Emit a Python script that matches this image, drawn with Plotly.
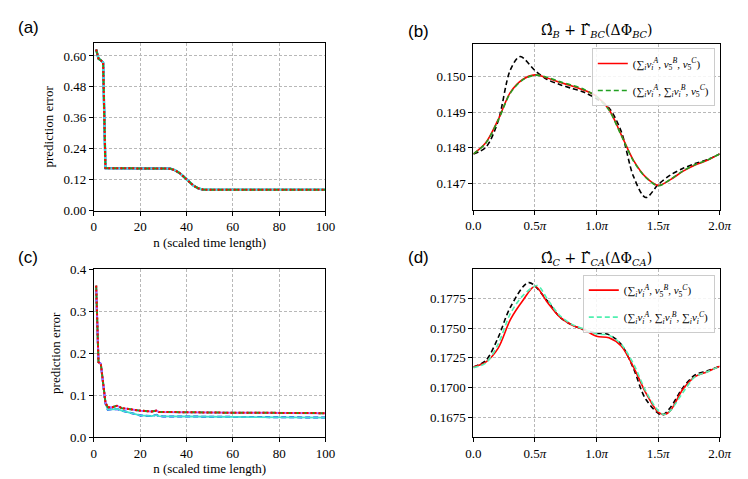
import numpy as np
import plotly.graph_objects as go

# ---------------- data ----------------
# panel (a): prediction error vs n
a_n = [1, 2, 3, 4, 5, 8, 15, 25, 33, 35, 37, 39, 41, 43, 45, 47, 50, 60, 80, 100]
a_err = [0.625, 0.59, 0.583, 0.575, 0.165, 0.165, 0.164, 0.164, 0.163, 0.157, 0.146, 0.13, 0.112, 0.097, 0.087, 0.082, 0.081, 0.081, 0.081, 0.081]

# panel (c): prediction error vs n (upper and lower groups)
c_n_up = [1, 2, 3, 4, 5, 6, 8, 10, 12, 15, 20, 25, 27, 28, 30, 40, 50, 60, 70, 80, 90, 100]
c_err_up = [0.3615, 0.1788, 0.175, 0.1287, 0.0825, 0.071, 0.071, 0.0748, 0.069, 0.067, 0.063, 0.061, 0.063, 0.060, 0.0598, 0.059, 0.0585, 0.058, 0.058, 0.0575, 0.057, 0.057]
c_n_lo = [1, 2, 3, 4, 5, 6, 8, 10, 12, 15, 20, 25, 27, 28, 30, 40, 50, 60, 70, 80, 90, 100]
c_err_lo = [0.35, 0.1788, 0.175, 0.125, 0.08, 0.0655, 0.066, 0.067, 0.063, 0.059, 0.0516, 0.050, 0.053, 0.050, 0.0493, 0.049, 0.0485, 0.048, 0.0475, 0.047, 0.0468, 0.0465]

# panel (b): phase x in units of pi
b_x = [0, .1, .2, .3, .4, .5, .6, .7, .8, .9, 1.0, 1.1, 1.2, 1.3, 1.4, 1.5, 1.6, 1.7, 1.8, 1.9, 2.0]
b_red = [0.14783, 0.14814, 0.14878, 0.14955, 0.14991, 0.15004, 0.14995, 0.14983, 0.14973, 0.14961, 0.14944, 0.14908, 0.14837, 0.14765, 0.14718, 0.14695, 0.14711, 0.14734, 0.14752, 0.14765, 0.14783]
b_green = [0.14783, 0.14813, 0.14876, 0.14953, 0.14990, 0.15003, 0.14997, 0.14985, 0.14975, 0.14963, 0.14943, 0.14906, 0.14835, 0.14763, 0.14717, 0.14694, 0.14712, 0.14735, 0.14753, 0.14766, 0.14783]
b_x_black = [0, .1, .2, .3, .38, .5, .6, .7, .8, .9, 1.0, 1.1, 1.2, 1.3, 1.4, 1.5, 1.6, 1.7, 1.8, 1.9, 2.0]
b_black = [0.14783, 0.14801, 0.14874, 0.15018, 0.15055, 0.15016, 0.14991, 0.14977, 0.14966, 0.14955, 0.14937, 0.14912, 0.14846, 0.14720, 0.14661, 0.14697, 0.14724, 0.14742, 0.14756, 0.14767, 0.14783]

# panel (d)
d_x_red = [0, .1, .2, .3, .4, .5, .6, .7, .8, .9, 1.0, 1.1, 1.2, 1.3, 1.4, 1.5, 1.55, 1.6, 1.7, 1.8, 1.9, 2.0]
d_red = [0.17174, 0.17215, 0.17330, 0.17570, 0.17728, 0.17850, 0.17715, 0.17593, 0.17526, 0.17485, 0.17431, 0.17418, 0.17350, 0.17174, 0.16958, 0.16796, 0.16777, 0.16809, 0.16985, 0.17093, 0.17134, 0.17180]
d_x_cyan = [0, .1, .2, .3, .4, .52, .6, .7, .8, .9, 1.0, 1.1, 1.2, 1.3, 1.4, 1.5, 1.55, 1.6, 1.7, 1.8, 1.9, 2.0]
d_cyan = [0.17169, 0.17207, 0.17364, 0.17620, 0.17769, 0.17855, 0.17742, 0.17607, 0.17531, 0.17491, 0.17450, 0.17440, 0.17364, 0.17201, 0.16972, 0.16809, 0.16777, 0.16809, 0.16958, 0.17093, 0.17134, 0.17180]
d_x_black = [0, .1, .2, .3, .45, .6, .7, .8, .9, 1.0, 1.1, 1.2, 1.3, 1.4, 1.53, 1.6, 1.7, 1.8, 1.9, 2.0]
d_black = [0.17174, 0.17228, 0.17418, 0.17674, 0.17880, 0.17728, 0.17593, 0.17526, 0.17485, 0.17458, 0.17445, 0.17364, 0.17161, 0.16904, 0.16772, 0.16836, 0.16999, 0.17107, 0.17142, 0.17180]

phase_ticks = [0, 0.5, 1.0, 1.5, 2.0]
phase_labels = ["0.0", "0.5<i>π</i>", "1.0<i>π</i>", "1.5<i>π</i>", "2.0<i>π</i>"]

leg_b = ["(∑<sub><i>i</i></sub><i>ν</i><sub><i>i</i></sub><sup><i>A</i></sup>, <i>ν</i><sub>5</sub><sup><i>B</i></sup>, <i>ν</i><sub>5</sub><sup><i>C</i></sup>)",
         "(∑<sub><i>i</i></sub><i>ν</i><sub><i>i</i></sub><sup><i>A</i></sup>, ∑<sub><i>i</i></sub><i>ν</i><sub><i>i</i></sub><sup><i>B</i></sup>, <i>ν</i><sub>5</sub><sup><i>C</i></sup>)"]
leg_d = ["(∑<sub><i>i</i></sub><i>ν</i><sub><i>i</i></sub><sup><i>A</i></sup>, <i>ν</i><sub>5</sub><sup><i>B</i></sup>, <i>ν</i><sub>5</sub><sup><i>C</i></sup>)",
         "(∑<sub><i>i</i></sub><i>ν</i><sub><i>i</i></sub><sup><i>A</i></sup>, ∑<sub><i>i</i></sub><i>ν</i><sub><i>i</i></sub><sup><i>B</i></sup>, ∑<sub><i>i</i></sub><i>ν</i><sub><i>i</i></sub><sup><i>C</i></sup>)"]

# ---------------- figure ----------------
W, H = 748, 479
SERIF = "Liberation Serif"
SANS = "Liberation Sans"

def px_x(p):
    return p / W

def px_y(p):
    return 1 - p / H

fig = go.Figure()
pi = np.pi
DASH = "5px,3px"

def line(x, y, color, dash="solid", width=1.8, xa="x", ya="y", name=None, legend=None, shape="linear", group=None):
    fig.add_trace(go.Scatter(
        x=x, y=y, mode="lines", xaxis=xa, yaxis=ya,
        line=dict(color=color, dash=dash, width=width, shape=shape, smoothing=0.9),
        name=name or "", showlegend=legend is not None,
        legend=legend if legend else "legend", legendgroup=group, hoverinfo="skip"))

# (a)
line(a_n, a_err, "blue", "solid", 2.2, "x", "y")
line(a_n, a_err, "#40e0d0", "solid", 2.4, "x", "y")
line(a_n, a_err, "#22a022", DASH, 2.0, "x", "y")
line(a_n, a_err, "red", "2px,2px", 2.0, "x", "y")

# (c)
line(c_n_lo, c_err_lo, "blue", DASH, 2.0, "x3", "y3")
line(c_n_lo, c_err_lo, "#40e0d0", "solid", 1.8, "x3", "y3")
line(c_n_up, c_err_up, "#b060ff", "solid", 2.0, "x3", "y3")
line(c_n_up, c_err_up, "#22a022", DASH, 2.0, "x3", "y3")
line(c_n_up, c_err_up, "red", "2px,2px", 2.0, "x3", "y3")

# (b)
bx = [v * pi for v in b_x]
line([v * pi for v in b_x_black], b_black, "black", DASH, 1.6, "x2", "y2", shape="spline")
line(bx, b_red, "red", "solid", 1.6, "x2", "y2", name=leg_b[0], legend="legend", shape="spline", group="b1")
line(bx, b_green, "#22a022", DASH, 1.6, "x2", "y2", name=leg_b[1], legend="legend", shape="spline", group="b2")

# (d)
line([v * pi for v in d_x_black], d_black, "black", DASH, 1.6, "x4", "y4", shape="spline")
line([v * pi for v in d_x_red], d_red, "red", "solid", 1.6, "x4", "y4", name=leg_d[0], legend="legend2", shape="spline", group="d1")
line([v * pi for v in d_x_cyan], d_cyan, "#50f0b0", DASH, 1.6, "x4", "y4", name=leg_d[1], legend="legend2", shape="spline", group="d2")

axis_common = dict(showline=True, linecolor="black", linewidth=1, mirror=True,
                   ticks="outside", ticklen=4, tickcolor="black",
                   showgrid=True, gridcolor="#b8b8b8", griddash="3px,2px", gridwidth=1,
                   zeroline=False, tickfont=dict(family=SERIF, size=13, color="black"))

dom_a_x = [px_x(80), px_x(318)]
dom_b_x = [px_x(470), px_x(723)]
dom_top_y = [px_y(202), px_y(29)]
dom_top_y_b = [px_y(201), px_y(30)]
dom_bot_y = [px_y(435.7), px_y(262.7)]

xtitle = dict(text="n (scaled time length)", font=dict(family=SERIF, size=13, color="black"), standoff=4)
ytitle = dict(text="prediction error", font=dict(family=SERIF, size=13, color="black"), standoff=6)

legend_common = dict(xanchor="right", yanchor="top", bgcolor="rgba(255,255,255,0.85)",
                     bordercolor="#cccccc", borderwidth=1, itemwidth=30,
                     font=dict(family=SERIF, size=11, color="black"), tracegroupgap=8)

fig.update_layout(
    width=W, height=H, margin=dict(l=0, r=0, t=0, b=0),
    paper_bgcolor="white", plot_bgcolor="white",
    font=dict(family=SERIF, color="black"),
    xaxis=dict(axis_common, domain=dom_a_x, anchor="y", range=[0, 100], tickvals=[0, 20, 40, 60, 80, 100], title=xtitle),
    yaxis=dict(axis_common, domain=dom_top_y, anchor="x", range=[0, 0.65], tickvals=[0, 0.12, 0.24, 0.36, 0.48, 0.60], tickformat=".2f", title=ytitle),
    xaxis2=dict(axis_common, domain=dom_b_x, anchor="y2", range=[0, 2 * pi], tickvals=[v * pi for v in phase_ticks], ticktext=phase_labels),
    yaxis2=dict(axis_common, domain=dom_top_y_b, anchor="x2", range=[0.14627, 0.15090], tickvals=[0.147, 0.148, 0.149, 0.150], tickformat=".3f"),
    xaxis3=dict(axis_common, domain=dom_a_x, anchor="y3", range=[0, 100], tickvals=[0, 20, 40, 60, 80, 100], title=xtitle),
    yaxis3=dict(axis_common, domain=dom_bot_y, anchor="x3", range=[0, 0.4], tickvals=[0, 0.1, 0.2, 0.3, 0.4], tickformat=".1f", title=ytitle),
    xaxis4=dict(axis_common, domain=dom_b_x, anchor="y4", range=[0, 2 * pi], tickvals=[v * pi for v in phase_ticks], ticktext=phase_labels),
    yaxis4=dict(axis_common, domain=dom_bot_y, anchor="x4", range=[0.16588, 0.1799], tickvals=[0.1675, 0.17, 0.1725, 0.175, 0.1775], tickformat=".4f"),
    legend=dict(legend_common, x=px_x(718), y=px_y(34)),
    legend2=dict(legend_common, x=px_x(718), y=px_y(268)),
    showlegend=True,
)

annotations = [
    dict(text="(a)", x=px_x(0), y=px_y(13), xanchor="left", yanchor="middle"),
    dict(text="(b)", x=px_x(401), y=px_y(17), xanchor="left", yanchor="middle"),
    dict(text="(c)", x=px_x(0), y=px_y(250), xanchor="left", yanchor="middle"),
    dict(text="(d)", x=px_x(401), y=px_y(250), xanchor="left", yanchor="middle"),
]
for a in annotations:
    a.update(xref="paper", yref="paper", showarrow=False, font=dict(family=SANS, size=17, color="black"))
    fig.add_annotation(**a)

titles = [
    ("Ω̂<sub><i>B</i></sub> + Γ̂<sub><i>BC</i></sub>(ΔΦ<sub><i>BC</i></sub>)", (470 + 723) / 2, 17),
    ("Ω̂<sub><i>C</i></sub> + Γ̂<sub><i>CA</i></sub>(ΔΦ<sub><i>CA</i></sub>)", (470 + 723) / 2, 252),
]
for t, xp, yp in titles:
    fig.add_annotation(text=t, x=px_x(xp), y=px_y(yp), xref="paper", yref="paper",
                       xanchor="center", yanchor="middle", showarrow=False,
                       font=dict(family="DejaVu Serif", size=14, color="black"))

fig.write_html("out.html")
